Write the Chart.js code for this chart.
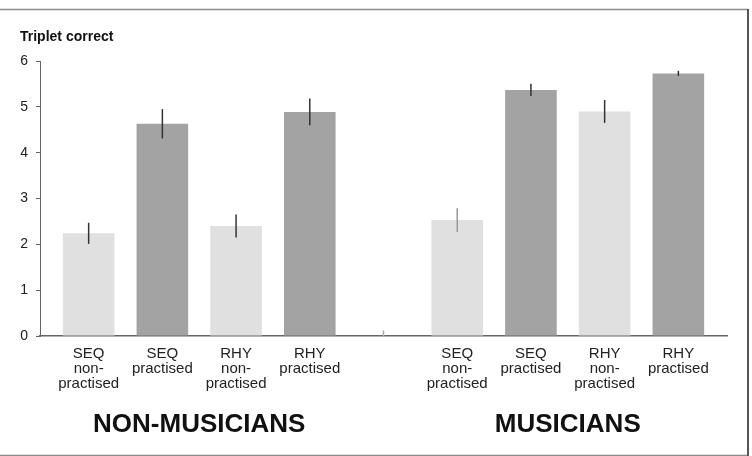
<!DOCTYPE html>
<html>
<head>
<meta charset="utf-8">
<script src="https://cdn.jsdelivr.net/npm/chart.js@4"></script>
<style>
  html, body { margin: 0; padding: 0; background: #fff; }
  #wrap { width: 752px; height: 456px; }
</style>
</head>
<body>
<div id="wrap"><canvas id="chart" width="752" height="456"></canvas></div>
<script>
// Chart data
const categories = [
    ['SEQ', 'non-', 'practised'], ['SEQ', 'practised'], ['RHY', 'non-', 'practised'], ['RHY', 'practised'],
    '',
    ['SEQ', 'non-', 'practised'], ['SEQ', 'practised'], ['RHY', 'non-', 'practised'], ['RHY', 'practised']
];
const means = [2.24, 4.63, 2.40, 4.89, 0, 2.53, 5.37, 4.90, 5.73];
const errors = [0.23, 0.32, 0.25, 0.29, 0.12, 0.26, 0.135, 0.25, 0.055];
const groupNames = ['NON-MUSICIANS', 'MUSICIANS'];
const groupCenters = [1.5, 6.5];
const yTicks = [0, 1, 2, 3, 4, 5, 6];

// styles
const barColors = ['#e0e0e0', '#a3a3a3', '#e0e0e0', '#a3a3a3', '#fff', '#e0e0e0', '#a3a3a3', '#e0e0e0', '#a3a3a3'];
const errColors = ['#333', '#333', '#333', '#333', '#aaa', '#999', '#333', '#333', '#333'];
const FONT = '"Liberation Sans", Arial, sans-serif';

// Frame, y title, group labels and error bars
const extras = {
    id: 'extras',
    afterDatasetsDraw(chart) {
        const ctx = chart.ctx;
        const meta = chart.getDatasetMeta(0);
        const y = chart.scales.y;
        ctx.save();
        ctx.lineWidth = 1.5;
        meta.data.forEach((bar, i) => {
            ctx.strokeStyle = errColors[i];
            ctx.beginPath();
            ctx.moveTo(bar.x, y.getPixelForValue(means[i] + errors[i]));
            ctx.lineTo(bar.x, Math.min(y.getPixelForValue(means[i] - errors[i]), y.getPixelForValue(0)));
            ctx.stroke();
        });
        ctx.restore();
    },
    afterDraw(chart) {
        const ctx = chart.ctx;
        const x = chart.scales.x;
        ctx.save();
        // frame
        ctx.strokeStyle = '#8a8a8a';
        ctx.lineWidth = 1.5;
        ctx.beginPath();
        ctx.moveTo(0, 9.5);
        ctx.lineTo(748.5, 9.5);
        ctx.moveTo(0, 455.5);
        ctx.lineTo(748.5, 455.5);
        ctx.stroke();
        ctx.strokeStyle = '#555';
        ctx.lineWidth = 2;
        ctx.beginPath();
        ctx.moveTo(748, 9);
        ctx.lineTo(748, 456);
        ctx.stroke();
        // y title
        ctx.fillStyle = '#111';
        ctx.font = 'bold 14px ' + FONT;
        ctx.textAlign = 'left';
        ctx.textBaseline = 'middle';
        ctx.fillText('Triplet correct', 20, 37);
        // group names
        ctx.font = 'bold 26px ' + FONT;
        ctx.textAlign = 'center';
        groupNames.forEach((name, i) => {
            ctx.fillText(name, x.getPixelForValue(groupCenters[i]), 425);
        });
        ctx.restore();
    }
};

new Chart(document.getElementById('chart'), {
    type: 'bar',
    data: {
        datasets: [{
            data: means.map((v, i) => ({ x: i, y: v })),
            backgroundColor: barColors,
            borderWidth: 0,
            barPercentage: 0.7,
            categoryPercentage: 1
        }]
    },
    options: {
        responsive: false,
        animation: false,
        layout: { padding: { left: 0, top: 61, right: 25, bottom: 0 } },
        plugins: {
            legend: { display: false },
            tooltip: { enabled: false }
        },
        scales: {
            x: {
                type: 'linear',
                offset: false,
                min: -0.66,
                max: 8.66,
                grid: { display: false },
                border: { display: true, color: '#666', width: 1.5 },
                afterBuildTicks(scale) {
                    scale.ticks = categories.map((c, i) => ({ value: i }));
                },
                afterFit(scale) { scale.height = 120; },
                ticks: {
                    autoSkip: false,
                    maxRotation: 0,
                    padding: 2,
                    color: '#222',
                    font: { family: FONT, size: 15, lineHeight: 1 },
                    callback: (v, i) => categories[i]
                }
            },
            y: {
                min: 0,
                max: 6,
                afterBuildTicks(scale) {
                    scale.ticks = yTicks.map(v => ({ value: v }));
                },
                afterFit(scale) { scale.width = 40; },
                grid: { drawOnChartArea: false, drawTicks: true, tickLength: 4, color: '#666' },
                border: { display: true, color: '#666', width: 1 },
                ticks: {
                    padding: 8,
                    color: '#222',
                    font: { family: FONT, size: 14 }
                }
            }
        }
    },
    plugins: [extras]
});
</script>
</body>
</html>
